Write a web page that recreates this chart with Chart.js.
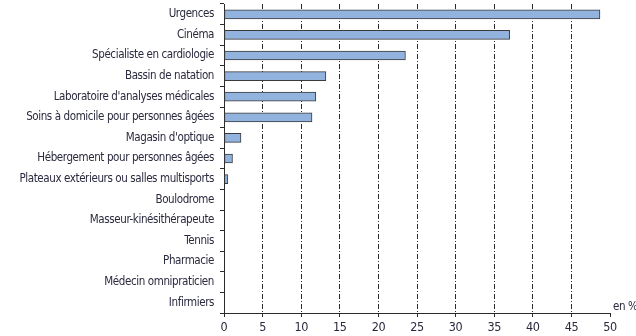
<!DOCTYPE html>
<html>
<head>
<meta charset="utf-8">
<script src="https://cdn.jsdelivr.net/npm/chart.js@4/dist/chart.umd.min.js"></script>
<style>
  html, body { margin: 0; padding: 0; background: #fff; }
  #wrap { width: 636px; height: 336px; position: relative; }
</style>
</head>
<body>
<div id="wrap"><canvas id="chart"></canvas></div>
<script>
// ── Data ──────────────────────────────────────────────────
const categories = [
  'Urgences',
  'Cinéma',
  'Spécialiste en cardiologie',
  'Bassin de natation',
  "Laboratoire d'analyses médicales",
  'Soins à domicile pour personnes âgées',
  "Magasin d'optique",
  'Hébergement pour personnes âgées',
  'Plateaux extérieurs ou salles multisports',
  'Boulodrome',
  'Masseur-kinésithérapeute',
  'Tennis',
  'Pharmacie',
  'Médecin omnipraticien',
  'Infirmiers',
];
const shares = [48.7, 37.0, 23.5, 13.2, 11.9, 11.4, 2.2, 1.1, 0.5, 0, 0, 0, 0, 0, 0];
const xTicks = [0, 5, 10, 15, 20, 25, 30, 35, 40, 45, 50];

const FONT = "'DejaVu Sans Condensed', 'Liberation Sans', sans-serif";
const TEXT = '#2a2a3e';
const LINE = '#2b2b2b';

// tighter letter spacing for a narrow look; canvas resizes reset the
// context state, so it is set again before every layout and draw
const setSpacing = chart => {
  if ('letterSpacing' in chart.ctx) chart.ctx.letterSpacing = '-0.4px';
};
const narrowText = {
  id: 'narrowText',
  beforeUpdate: setSpacing,
  beforeDraw: setSpacing,
};

// "en %" unit next to the end of the value axis
const unitLabel = {
  id: 'unitLabel',
  afterDraw(chart) {
    const { ctx, chartArea } = chart;
    ctx.save();
    ctx.font = '11.5px ' + FONT;
    ctx.fillStyle = TEXT;
    ctx.textAlign = 'left';
    ctx.textBaseline = 'alphabetic';
    ctx.fillText('en %', chartArea.right + 3, chartArea.bottom - 3);
    ctx.restore();
  },
};

new Chart(document.getElementById('chart'), {
  type: 'bar',
  data: {
    labels: categories,
    datasets: [{
      data: shares,
      backgroundColor: '#93b3df',
      borderColor: '#3a3a3a',
      borderWidth: 1,
      borderSkipped: false,
      barThickness: 9,
    }],
  },
  plugins: [narrowText, unitLabel],
  options: {
    indexAxis: 'y',
    responsive: true,
    maintainAspectRatio: false,
    animation: false,
    layout: { padding: { top: 4, right: 26, left: 0, bottom: 0 } },
    plugins: { legend: { display: false }, tooltip: { enabled: false } },
    scales: {
      x: {
        min: 0,
        max: 50,
        afterBuildTicks: s => { s.ticks = xTicks.map(v => ({ value: v })); },
        afterFit: s => { s.height = 23; },
        grid: {
          color: ctx => (ctx.tick && (ctx.tick.value === 0 || ctx.tick.value === 50)) ? 'rgba(0,0,0,0)' : LINE,
          lineWidth: 1,
          tickColor: LINE,
          tickLength: 4,
          tickBorderDash: [],
        },
        border: { display: true, color: LINE, width: 1, dash: [5, 2, 1, 2] },
        ticks: {
          color: TEXT,
          font: { family: FONT, size: 12.5 },
          padding: 3,
          maxRotation: 0,
        },
      },
      y: {
        afterFit: s => { s.width = 224; s.paddingTop = 0; s.paddingBottom = 0; },
        grid: {
          offset: true,
          drawOnChartArea: false,
          tickColor: LINE,
          tickLength: 4,
        },
        border: { display: true, color: LINE, width: 1 },
        ticks: {
          color: TEXT,
          font: { family: FONT, size: 11.5 },
          padding: 6,
          autoSkip: false,
        },
      },
    },
  },
});
</script>
</body>
</html>
